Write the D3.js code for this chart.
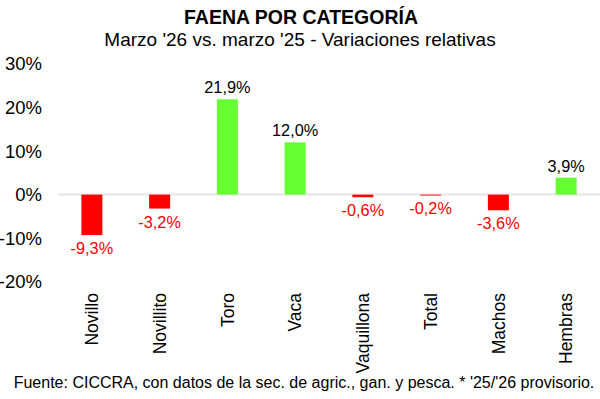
<!DOCTYPE html>
<html>
<head>
<meta charset="utf-8">
<script src="https://cdn.jsdelivr.net/npm/d3@7"></script>
<style>
  body { margin: 0; background: #fff; }
  svg { display: block; font-family: "Liberation Sans", Arial, sans-serif; }
</style>
</head>
<body>
<svg id="chart" width="600" height="399"></svg>
<script>
// data
var categories = ["Novillo", "Novillito", "Toro", "Vaca", "Vaquillona", "Total", "Machos", "Hembras"];
var variations = [-9.3, -3.2, 21.9, 12.0, -0.6, -0.2, -3.6, 3.9];
var yTicks = [30, 20, 10, 0, -10, -20];

var data = categories.map(function(c, i) { return { label: c, value: variations[i] }; });

var svg = d3.select("#chart");

var x = d3.scaleBand()
    .domain(categories)
    .range([58, 600])
    .paddingInner(0.69)
    .paddingOuter(0.345);

var y = d3.scaleLinear()
    .domain([-20, 30])
    .range([281.7, 64]);

var fmt = function(v) { return v.toFixed(1).replace(".", ",") + "%"; };

// titles
svg.append("text")
    .attr("x", 301).attr("y", 24)
    .attr("text-anchor", "middle")
    .style("font-weight", "bold")
    .style("font-size", "19.5px")
    .text("FAENA POR CATEGORÍA");

svg.append("text")
    .attr("x", 300).attr("y", 46)
    .attr("text-anchor", "middle")
    .style("font-size", "19px")
    .text("Marzo '26 vs. marzo '25 - Variaciones relativas");

// y axis labels only
var yAxis = d3.axisLeft(y)
    .tickValues(yTicks)
    .tickFormat(function(d) { return d + "%"; })
    .tickSize(0)
    .tickPadding(0);

var gy = svg.append("g")
    .attr("transform", "translate(42,0)")
    .call(yAxis);
gy.select(".domain").remove();
gy.selectAll("text")
    .style("font-size", "18.5px")
    .style("font-family", "'Liberation Sans', Arial, sans-serif")
    .attr("fill", "#000");

// zero line
svg.append("line")
    .attr("x1", 58).attr("x2", 600)
    .attr("y1", y(0)).attr("y2", y(0))
    .attr("stroke", "#e6e6e6")
    .attr("stroke-width", 2);

// bars
svg.selectAll("rect.bar")
    .data(data)
  .enter().append("rect")
    .attr("class", "bar")
    .attr("x", function(d) { return x(d.label); })
    .attr("width", x.bandwidth())
    .attr("y", function(d) { return d.value > 0 ? y(d.value) : y(0); })
    .attr("height", function(d) { return Math.abs(y(d.value) - y(0)); })
    .attr("fill", function(d) { return d.value > 0 ? "#66ff33" : "#ff0000"; });

// value labels
svg.selectAll("text.val")
    .data(data)
  .enter().append("text")
    .attr("class", "val")
    .attr("x", function(d) { return x(d.label) + x.bandwidth() / 2; })
    .attr("y", function(d) { return d.value > 0 ? y(d.value) - 6 : y(d.value) + 19; })
    .attr("text-anchor", "middle")
    .style("font-size", "16.3px")
    .attr("fill", function(d) { return d.value > 0 ? "#000" : "#ff0000"; })
    .text(function(d) { return fmt(d.value); });

// x axis labels, rotated
var xAxis = d3.axisBottom(x).tickSize(0).tickPadding(0);
var gx = svg.append("g")
    .attr("transform", "translate(0,293)")
    .call(xAxis);
gx.select(".domain").remove();
gx.selectAll("text")
    .style("font-size", "17.5px")
    .style("font-family", "'Liberation Sans', Arial, sans-serif")
    .attr("fill", "#000")
    .attr("transform", "rotate(-90)")
    .attr("x", 0)
    .attr("y", 0)
    .attr("dy", "0.35em")
    .attr("text-anchor", "end");

// footer
svg.append("text")
    .attr("x", 304).attr("y", 388)
    .attr("text-anchor", "middle")
    .style("font-size", "16px")
    .text("Fuente: CICCRA, con datos de la sec. de agric., gan. y pesca. * '25/'26 provisorio.");
</script>
</body>
</html>
